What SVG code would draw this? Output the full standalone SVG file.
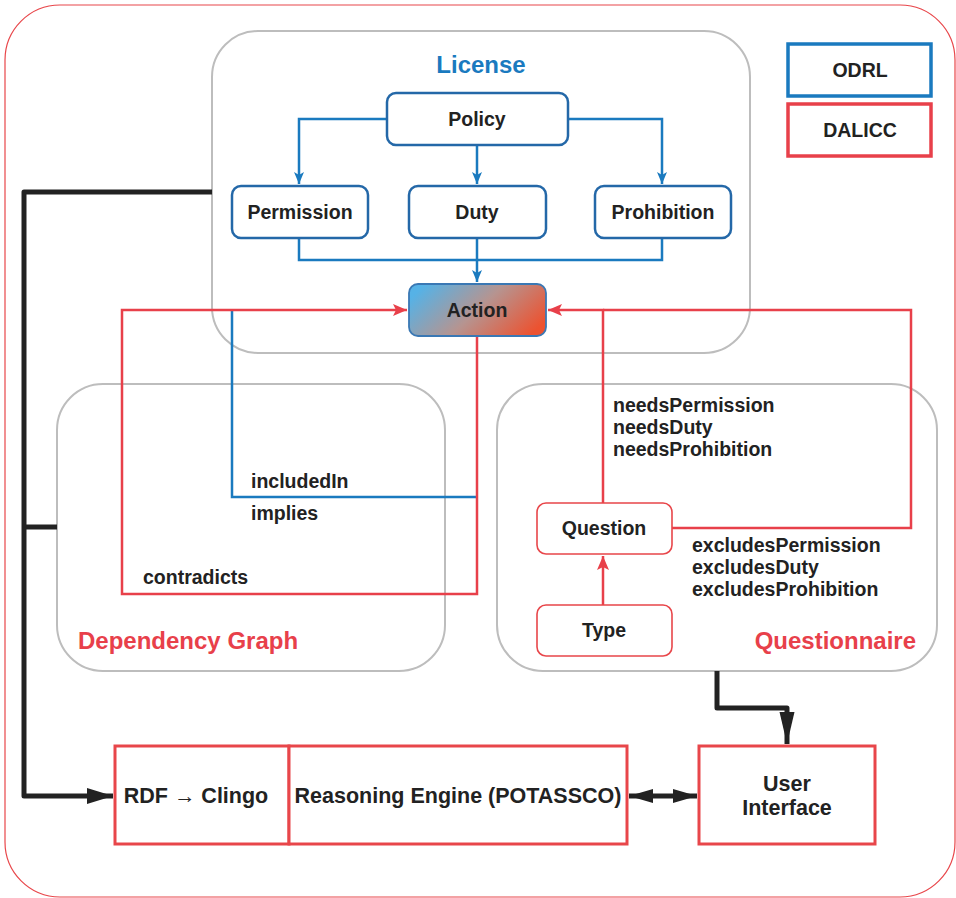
<svg xmlns="http://www.w3.org/2000/svg" width="956" height="898" viewBox="0 0 956 898">
<defs>
<style>
.t{font-family:"Liberation Sans",Arial,sans-serif;font-weight:bold;fill:#222;font-size:19.5px}
.c{text-anchor:middle;dominant-baseline:central}
.big{font-size:21.5px}
.grp{fill:none;stroke:#bdbdbd;stroke-width:2}
.bn{fill:#fff;stroke:#2468a8;stroke-width:2.5}
.rn{fill:#fff;stroke:#e8464a;stroke-width:1.6}
.bx{fill:#fff;stroke:#e8464a;stroke-width:3}
.bl{fill:none;stroke:#1a7abf;stroke-width:2.5}
.rl{fill:none;stroke:#e8404a;stroke-width:2.5}
.kl{fill:none;stroke:#222;stroke-width:5;stroke-linejoin:round}
</style>
<linearGradient id="ag" x1="0" y1="0.3" x2="1" y2="0.7">
<stop offset="0" stop-color="#56b2e6"/>
<stop offset="0.5" stop-color="#b69490"/>
<stop offset="1" stop-color="#ec5230"/>
</linearGradient>
<marker id="ab" markerUnits="userSpaceOnUse" markerWidth="14" markerHeight="14" refX="12" refY="5" orient="auto"><path d="M0,0 L12,5 L0,10 L3,5 z" fill="#1a7abf"/></marker>
<marker id="ar" markerUnits="userSpaceOnUse" markerWidth="16" markerHeight="14" refX="14" refY="6" orient="auto"><path d="M0,0 L14,6 L0,12 L3,6 z" fill="#e8404a"/></marker>
<marker id="ak" markerUnits="userSpaceOnUse" markerWidth="30" markerHeight="20" refX="26" refY="8" orient="auto"><path d="M0,0 L26,8 L0,16 z" fill="#222"/></marker>
<marker id="ak2" markerUnits="userSpaceOnUse" markerWidth="34" markerHeight="20" refX="32" refY="7.5" orient="auto"><path d="M0,0 L32,7.5 L0,15 z" fill="#222"/></marker>
<marker id="aks" markerUnits="userSpaceOnUse" markerWidth="30" markerHeight="20" refX="24" refY="7" orient="auto-start-reverse"><path d="M0,0 L24,7 L0,14 z" fill="#222"/></marker>
</defs>
<rect x="5" y="5" width="950" height="892" rx="55" fill="#fff" stroke="#e8464a" stroke-width="1.2"/>

<g id="license"><rect class="grp" x="212" y="31" width="538" height="322" rx="46"/><text class="c" x="481" y="64" style="font-family:'Liberation Sans',Arial,sans-serif;font-weight:bold;font-size:24px;fill:#1a7abf">License</text></g>
<g id="dependency-graph"><rect class="grp" x="57" y="384" width="388" height="287" rx="46"/><text x="78" y="649" style="font-family:'Liberation Sans',Arial,sans-serif;font-weight:bold;font-size:24px;fill:#e8404a">Dependency Graph</text></g>
<g id="questionnaire"><rect class="grp" x="497" y="384" width="440" height="287" rx="46"/><text x="916" y="649" text-anchor="end" style="font-family:'Liberation Sans',Arial,sans-serif;font-weight:bold;font-size:24px;fill:#e8404a">Questionnaire</text></g>

<g id="connectors">
<path class="bl" d="M387,119 H299 V184" marker-end="url(#ab)"/>
<path class="bl" d="M568,119 H662 V184" marker-end="url(#ab)"/>
<path class="bl" d="M477,145 V184" marker-end="url(#ab)"/>
<path class="bl" d="M299,238 V260 H662 V238"/>
<path class="bl" d="M477,238 V282" marker-end="url(#ab)"/>
<path class="bl" d="M477,497 H232 V310"/>
<path class="rl" d="M477,336 V594 H122 V310 H407" marker-end="url(#ar)"/>
<path class="rl" d="M603,503 V310 H548" marker-end="url(#ar)"/>
<path class="rl" d="M672,528 H911 V310 H603"/>
<path class="rl" d="M603,605 V556" marker-end="url(#ar)"/>
<path class="kl" d="M212,192 H24 V796 H113" marker-end="url(#ak)"/>
<path class="kl" d="M24,527 H57"/>
<path class="kl" d="M717,671 V708 H787 V744" marker-end="url(#ak2)"/>
<path class="kl" d="M629,796 H697" marker-start="url(#aks)" marker-end="url(#aks)"/>
</g>

<g id="policy"><rect class="bn" x="387" y="93" width="181" height="52" rx="9"/><text class="t c" x="477" y="119">Policy</text></g>
<g id="permission"><rect class="bn" x="232" y="186" width="136" height="52" rx="9"/><text class="t c" x="300" y="212">Permission</text></g>
<g id="duty"><rect class="bn" x="409" y="186" width="137" height="52" rx="9"/><text class="t c" x="477" y="212">Duty</text></g>
<g id="prohibition"><rect class="bn" x="595" y="186" width="136" height="52" rx="9"/><text class="t c" x="663" y="212">Prohibition</text></g>
<g id="action"><rect x="409" y="284" width="137" height="52" rx="9" fill="url(#ag)" stroke="#3a78b4" stroke-width="1.8"/><text class="t c" x="477" y="310">Action</text></g>

<g id="labels">
<text class="t" x="251" y="488">includedIn</text>
<text class="t" x="251" y="520">implies</text>
<text class="t" x="143" y="584">contradicts</text>
<text class="t" x="613" y="412">needsPermission</text>
<text class="t" x="613" y="434">needsDuty</text>
<text class="t" x="613" y="456">needsProhibition</text>
<text class="t" x="692" y="552">excludesPermission</text>
<text class="t" x="692" y="574">excludesDuty</text>
<text class="t" x="692" y="596">excludesProhibition</text>
</g>

<g id="question"><rect class="rn" x="537" y="503" width="135" height="51" rx="9"/><text class="t c" x="604" y="528">Question</text></g>
<g id="type"><rect class="rn" x="537" y="605" width="135" height="51" rx="9"/><text class="t c" x="604" y="630">Type</text></g>

<g id="rdf-clingo"><rect class="bx" x="115" y="746" width="174" height="98"/><text class="t c big" x="196" y="796">RDF → Clingo</text></g>
<g id="reasoning-engine"><rect class="bx" x="289" y="746" width="338" height="98"/><text class="t c big" x="458" y="796">Reasoning Engine (POTASSCO)</text></g>
<g id="user-interface"><rect class="bx" x="699" y="746" width="176" height="98"/><text class="t c big" x="787" y="784">User</text><text class="t c big" x="787" y="808">Interface</text></g>

<g id="odrl"><rect x="788" y="44" width="143" height="52" fill="#fff" stroke="#1a7abf" stroke-width="3.5"/><text class="t c" x="860" y="70">ODRL</text></g>
<g id="dalicc"><rect x="788" y="104" width="143" height="52" fill="#fff" stroke="#e8404a" stroke-width="3.5"/><text class="t c" x="860" y="130">DALICC</text></g>
</svg>
